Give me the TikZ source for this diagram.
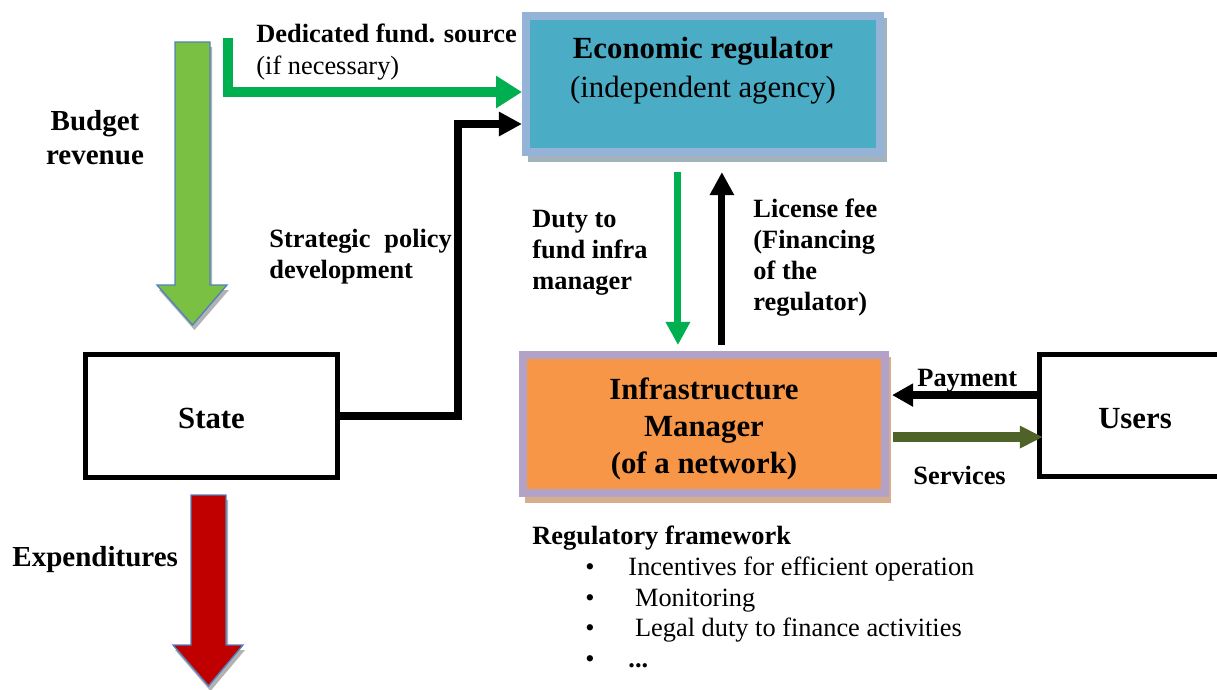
\documentclass[tikz,border=0pt]{standalone}
\usepackage{xcolor}
\usepackage{fontspec}
\setmainfont{Liberation Serif}
\usepackage{tikz}
\usetikzlibrary{calc}
\usetikzlibrary{arrows.meta}
\usetikzlibrary{positioning}

\definecolor{budgetgreen}{HTML}{7AC143}
\definecolor{edgeblue}{HTML}{4F81BD}
\definecolor{spendred}{HTML}{C00000}
\definecolor{fundgreen}{HTML}{00B050}
\definecolor{regfill}{HTML}{4BACC6}
\definecolor{regframe}{HTML}{95B3D7}
\definecolor{regshadow}{HTML}{A3B3BD}
\definecolor{imfill}{HTML}{F79646}
\definecolor{imframe}{HTML}{B2A2C7}
\definecolor{imshadow}{HTML}{D6AE8C}
\definecolor{servgreen}{HTML}{4F6228}

\tikzset{
 lbl/.style={inner sep=0, align=left, font=\fontsize{12}{14.1}\selectfont\bfseries},
 boxtxt/.style={inner sep=0, align=center, font=\fontsize{14}{16.8}\selectfont\bfseries},
 plainbox/.style={rectangle, draw=black, line width=2.3pt, inner sep=0, text height=11.8pt, text depth=0pt},
 blockarrow/.style={draw=edgeblue, line width=0.6pt},
 fundarrow/.style={draw=fundgreen, line width=4.5pt, -{Triangle[length=11.8pt,width=14pt]}},
 blackarrow/.style={draw=black, line width=3.4pt, -{Triangle[length=10.5pt,width=10.5pt]}}
}

\begin{document}
\begin{tikzpicture}[x=0.455pt, y=-0.455pt]
 \useasboundingbox (0,0) rectangle (1217,689);
 \clip (0,0) rectangle (1217,689);

 \fill [gray!60, shift={(2,5)}] (175,42) -- (210,42) -- (210,285) -- (227,285) -- (192.5,325) -- (157,285) -- (175,285) -- cycle;
 \filldraw [fill=budgetgreen, blockarrow] (175,42) -- (210,42) -- (210,285) -- (227,285) -- (192.5,325) -- (157,285) -- (175,285) -- cycle;
 \fill [gray!60, shift={(2,5)}] (191,495) -- (226,495) -- (226,645) -- (243,645) -- (208.5,686) -- (173,645) -- (191,645) -- cycle;
 \filldraw [fill=spendred, blockarrow] (191,495) -- (226,495) -- (226,645) -- (243,645) -- (208.5,686) -- (173,645) -- (191,645) -- cycle;

 \fill [regshadow] (528,18) rectangle (887,162);
 \node [rectangle, fill=regfill, draw=regframe, line width=3.64pt, inner sep=0, minimum width=161.1pt, minimum height=61.9pt] (reg) at (703,84) {};
 \node [boxtxt, font=\fontsize{14}{17.7}\selectfont] (regtxt) at (703,70.5) {\textbf{Economic regulator}\\(independent agency)};

 \fill [imshadow] (525,357) rectangle (891,503);
 \node [rectangle, fill=imfill, draw=imframe, line width=3.64pt, inner sep=0, minimum width=164.7pt, minimum height=62.8pt] (im) at (704,424) {};
 \node [boxtxt] (imtxt) at (704,429) {Infrastructure\\Manager\\(of a network)};

 \node [plainbox, minimum width=114.7pt, minimum height=56pt, boxtxt] (state) at (211.5,416) {State};
 \node [plainbox, minimum width=86.5pt, minimum height=55.1pt, boxtxt] (users) at (1135,415.5) {Users};

 \coordinate (fundtop) at (228,38);
 \draw [fundarrow] (fundtop) |- ([yshift=-3.64pt]reg.west);
 \draw [blackarrow, line width=3.6pt] (state.east) -- ++(118,0) |- ([yshift=-18.2pt]reg.west);
 \draw [blackarrow, draw=fundgreen, line width=3.2pt, shorten <=7.3pt, shorten >=2.7pt] ([xshift=-11.4pt]reg.south) -- ([xshift=-11.4pt]reg.south |- im.north);
 \draw [blackarrow, line width=3.2pt, shorten <=2.7pt, shorten >=7.3pt] ([xshift=8.6pt]reg.south |- im.north) -- ([xshift=8.6pt]reg.south);
 \draw [blackarrow, line width=3.8pt, -{Triangle[length=9.6pt,width=10pt]}, shorten >=1.4pt] ([yshift=9.3pt]users.west) -- ([yshift=9.3pt]users.west -| im.east);
 \draw [blackarrow, draw=servgreen, line width=4.5pt, -{Triangle[length=10.5pt,width=9.6pt]}, shorten <=1.8pt, shorten >=-2.5pt] ([yshift=-9.8pt]users.west -| im.east) -- ([yshift=-9.8pt]users.west);

 \node [lbl, align=center, font=\fontsize{13.2}{15.5}\selectfont\bfseries] (budget) at (95,138) {Budget\\revenue};
 \node [lbl, anchor=west, font=\fontsize{13.2}{15.5}\selectfont\bfseries] (expend) at (12,560) {Expenditures};
 \node [lbl, anchor=west, font=\fontsize{12}{14.6}\selectfont] (fundlbl) at (256,52) {\textbf{Dedicated fund. source}\\(if necessary)};
 \node [lbl, anchor=west, text width=83pt] (policy) at (269,256.5) {Strategic\hfill policy\\development};
 \node [lbl, anchor=west] (duty) at (532,253) {Duty to\\fund infra\\manager};
 \node [lbl, anchor=west] (fee) at (753,257.5) {License fee\\(Financing\\of the\\regulator)};
 \node [lbl, anchor=west] (payment) at (917,381) {Payment};
 \node [lbl, anchor=west] (services) at (913,475) {Services};
 \node [lbl, anchor=west, font=\fontsize{12}{14.0}\selectfont] (framework) at (532,597) {\textbf{Regulatory framework}\\
  \hspace*{24.1pt}\makebox[19.6pt][l]{•}Incentives for efficient operation\\
  \hspace*{24.1pt}\makebox[19.6pt][l]{•}\ Monitoring\\
  \hspace*{24.1pt}\makebox[19.6pt][l]{•}\ Legal duty to finance activities\\
  \hspace*{24.1pt}\makebox[19.6pt][l]{•}\textbf{...}};
\end{tikzpicture}
\end{document}
